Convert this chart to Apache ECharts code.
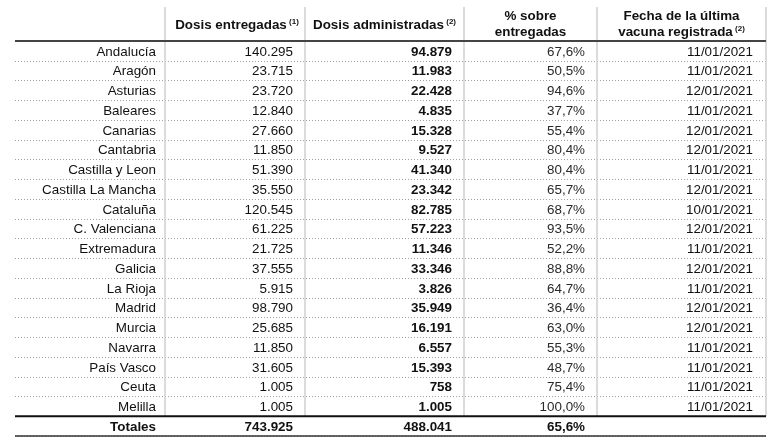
<!DOCTYPE html>
<html><head><meta charset="utf-8">
<script src="https://cdn.jsdelivr.net/npm/echarts@6/dist/echarts.min.js"></script>
<style>html,body{margin:0;padding:0;background:#fff}#c{width:780px;height:445px}</style>
</head><body><div id="c"></div>
<script>
const regions = ['Andalucía','Aragón','Asturias','Baleares','Canarias','Cantabria','Castilla y Leon','Castilla La Mancha','Cataluña','C. Valenciana','Extremadura','Galicia','La Rioja','Madrid','Murcia','Navarra','País Vasco','Ceuta','Melilla'];
const entregadas = [140295,23715,23720,12840,27660,11850,51390,35550,120545,61225,21725,37555,5915,98790,25685,11850,31605,1005,1005];
const administradas = [94879,11983,22428,4835,15328,9527,41340,23342,82785,57223,11346,33346,3826,35949,16191,6557,15393,758,1005];
const pctSobre = [67.6,50.5,94.6,37.7,55.4,80.4,80.4,65.7,68.7,93.5,52.2,88.8,64.7,36.4,63.0,55.3,48.7,75.4,100.0];
const fechas = ['11/01/2021','11/01/2021','12/01/2021','11/01/2021','12/01/2021','12/01/2021','11/01/2021','12/01/2021','10/01/2021','12/01/2021','11/01/2021','12/01/2021','11/01/2021','12/01/2021','12/01/2021','11/01/2021','11/01/2021','11/01/2021','11/01/2021'];
const totalLabel = 'Totales';
const totalEntregadas = 743925;
const totalAdministradas = 488041;
const totalPct = 65.6;
const headers = [
  [],
  [['Dosis entregadas','(1)']],
  [['Dosis administradas','(2)']],
  [['% sobre',''],['entregadas','']],
  [['Fecha de la última',''],['vacuna registrada','(2)']]
];

// layout (not data)
const FONT = '"Liberation Sans", Arial, sans-serif';
const FS = '13.4px ';
const colRight = [156, 293, 452, 585, 753];
const colBorders = [165, 305, 464, 597, 766];
const colCenters = [90, 237, 384.5, 530.5, 681.5];
const X0 = 15, X1 = 766, HEADER_TOP = 7;

const fmtInt = v => String(v).replace(/\B(?=(\d{3})+(?!\d))/g, '.');
const fmtPct = v => v.toFixed(1).replace('.', ',') + '%';

const categories = regions.concat([totalLabel]);
const rows = regions.map((r, i) => [r, fmtInt(entregadas[i]), fmtInt(administradas[i]), fmtPct(pctSobre[i]), fechas[i]]);
rows.push([totalLabel, fmtInt(totalEntregadas), fmtInt(totalAdministradas), fmtPct(totalPct), '']);

function line(x1, y1, x2, y2, stroke, w, dash) {
  return {type:'line', shape:{x1, y1, x2, y2}, style:{stroke, lineWidth:w, lineDash: dash || null}, silent:true};
}

function renderItem(params, api) {
  const i = api.value(1);
  const c = api.coord([X0, i]);
  const y = c[1];
  const h = api.size([0, 1])[1];
  const top = y - h / 2, bot = y + h / 2;
  const children = [];
  const isTotal = i === regions.length;
  const row = rows[i];
  row.forEach((t, k) => {
    if (!t) return;
    const bold = isTotal || k === 2;
    children.push({type:'text', style:{text:t, x: api.coord([colRight[k], i])[0], y: y + 1, align:'right', verticalAlign:'middle',
      font: (bold ? 'bold ' : '') + FS + FONT, fill: (k === 3 && !isTotal) ? '#2a2a2a' : '#111'}});
  });
  const xl = api.coord([X0, i])[0], xr = api.coord([X1, i])[0];
  if (!isTotal) {
    colBorders.forEach(bx => {
      const x = api.coord([bx, i])[0];
      children.push(line(x, i === 0 ? HEADER_TOP : top, x, bot, '#cfcfcf', 1.5));
    });
  }
  if (i === 0) {
    headers.forEach((lines, k) => {
      if (!lines.length) return;
      const cx = api.coord([colCenters[k], i])[0];
      const n = lines.length;
      lines.forEach((ln, j) => {
        const ty = n === 1 ? 25 : (j === 0 ? 16 : 32);
        const txt = '{b|' + ln[0] + '}' + (ln[1] ? '{s| ' + ln[1] + '}' : '');
        children.push({type:'text', style:{text: txt, x: cx, y: ty, align:'center', verticalAlign:'middle',
          rich:{b:{font:'bold ' + FS + FONT, fill:'#111', lineHeight:15},
                s:{font:'bold 8px ' + FONT, fill:'#111', verticalAlign:'top', lineHeight:15}}}});
      });
    });
    children.push(line(xl, top, xr, top, '#444', 2));
  }
  if (isTotal) {
    children.push(line(xl, top, xr, top, '#111', 2));
    children.push(line(xl, bot, xr, bot, '#333', 1.5));
  }
  return {type:'group', children};
}

const chart = echarts.init(document.getElementById('c'), null, {renderer:'canvas'});
chart.setOption({
  backgroundColor:'#fff',
  animation:false,
  grid:{left:X0, right:780 - X1, top:41, height:395},
  xAxis:{type:'value', min:X0, max:X1, show:false},
  yAxis:{type:'category', data:categories, inverse:true, boundaryGap:true,
    axisLabel:{show:false}, axisTick:{show:false}, axisLine:{show:false},
    splitLine:{show:true, interval:0, lineStyle:{color:'#a0a0a0', width:1, type:[1,2]}}},
  series:[{type:'custom', renderItem, data: categories.map((c, i) => [X0, i]), encode:{x:0, y:1}, clip:false, silent:true}]
});
</script></body></html>
